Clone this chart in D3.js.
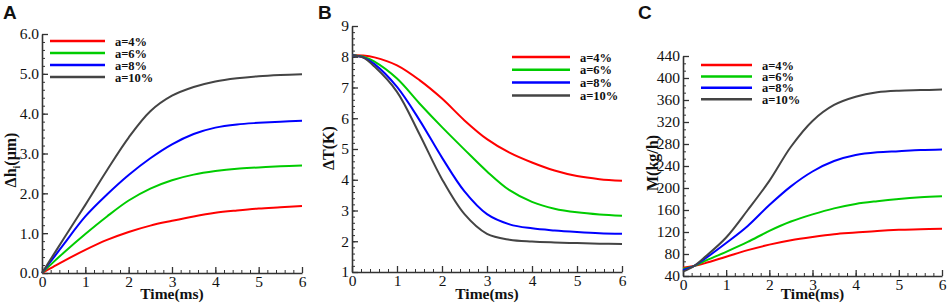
<!DOCTYPE html>
<html>
<head>
<meta charset="utf-8">
<script src="https://cdn.jsdelivr.net/npm/d3@7"></script>
<style>
  html, body { margin: 0; padding: 0; background: #fff; }
  svg { display: block; }
  .axis path, .axis line { stroke: #333; }
</style>
</head>
<body>
<div id="container"></div>
<script>
// time grid (ms)
const times = [0, 0.25, 0.5, 1, 1.5, 2, 2.5, 3, 3.5, 4, 4.5, 5, 5.5, 6]
const seriesNames = ['a=4%', 'a=6%', 'a=8%', 'a=10%']
const seriesColors = ['#ff0000', '#00cc00', '#0000ff', '#444444']

// panel A: Δh (μm)
const dhA4 = [0, 0.15, 0.30, 0.58, 0.83, 1.03, 1.19, 1.31, 1.42, 1.51, 1.57, 1.62, 1.65, 1.68]
const dhA6 = [0, 0.26, 0.51, 0.98, 1.42, 1.82, 2.12, 2.33, 2.47, 2.56, 2.62, 2.65, 2.68, 2.70]
const dhA8 = [0, 0.36, 0.72, 1.42, 1.97, 2.46, 2.88, 3.23, 3.49, 3.65, 3.73, 3.77, 3.80, 3.82]
const dhA10 = [0, 0.43, 0.86, 1.71, 2.58, 3.40, 4.06, 4.45, 4.67, 4.81, 4.89, 4.94, 4.97, 4.99]

// panel B: ΔT (K)
const dtA4 = [8.05, 8.04, 7.98, 7.72, 7.24, 6.64, 5.93, 5.32, 4.88, 4.56, 4.30, 4.12, 4.02, 3.97]
const dtA6 = [8.05, 8.00, 7.84, 7.29, 6.48, 5.71, 4.98, 4.27, 3.66, 3.28, 3.06, 2.94, 2.87, 2.83]
const dtA8 = [8.05, 7.98, 7.76, 7.02, 5.94, 4.72, 3.62, 2.88, 2.55, 2.42, 2.35, 2.30, 2.26, 2.24]
const dtA10 = [8.05, 7.97, 7.68, 6.86, 5.48, 4.02, 2.88, 2.24, 2.05, 1.99, 1.96, 1.94, 1.92, 1.91]

// panel C: M (kg/h)
const mA4 = [55, 58, 63, 75, 87, 97, 105, 111, 116, 119, 122, 124, 125, 126]
const mA6 = [53, 58, 67, 84, 102, 122, 139, 152, 163, 171, 176, 180, 183, 185]
const mA8 = [51, 58, 71, 100, 131, 169, 203, 230, 249, 260, 265, 267, 269, 270]
const mA10 = [48, 58, 74, 110, 160, 213, 275, 322, 351, 366, 374, 377, 378, 379]

// axis ticks
const xTicks = [0, 1, 2, 3, 4, 5, 6]
const dhTicks = [0, 1, 2, 3, 4, 5, 6]
const dtTicks = [1, 2, 3, 4, 5, 6, 7, 8, 9]
const mTicks = [40, 80, 120, 160, 200, 240, 280, 320, 360, 400, 440]

const width = 948
const height = 305
const serif = 'Liberation Serif, Times New Roman, Times, serif'

const svg = d3.select('#container').append('svg')
    .attr('width', width).attr('height', height)

const panels = [
    {
        label: 'A', labelX: 3, left: 42, right: 302, top: 34, bottom: 273,
        domain: [0, 6], ticks: dhTicks, minorStep: 0.2, fmt: d3.format('.1f'),
        series: [dhA4, dhA6, dhA8, dhA10],
        legend: { x1: 50, x2: 105, y: 41, dy: 12 },
        ytitle: { x: 16, y: 160 }
    },
    {
        label: 'B', labelX: 318, left: 352, right: 622, top: 26, bottom: 272,
        domain: [1, 9], ticks: dtTicks, minorStep: 0.2, fmt: d3.format('d'),
        series: [dtA4, dtA6, dtA8, dtA10],
        legend: { x1: 512, x2: 570, y: 57, dy: 12.8 },
        ytitle: { x: 334, y: 148 }
    },
    {
        label: 'C', labelX: 638, left: 683, right: 942, top: 56, bottom: 276,
        domain: [40, 440], ticks: mTicks, minorStep: 40 / 3, fmt: d3.format('d'),
        series: [mA4, mA6, mA8, mA10],
        legend: { x1: 701, x2: 752, y: 65, dy: 11.4 },
        ytitle: { x: 658, y: 163 }
    }
]

const minorRange = (lo, hi, step) => {
    const out = []
    const n = Math.round((hi - lo) / step)
    for (let i = 0; i <= n; i++) out.push(lo + i * step)
    return out
}

const styleAxis = a => {
    a.attr('font-family', serif).attr('font-size', 15.5)
    a.select('.domain').attr('stroke-width', 1.6)
    a.selectAll('line').attr('stroke-width', 1.3)
    a.selectAll('text').attr('fill', '#111').attr('font-family', serif)
}

panels.forEach(p => {
    const g = svg.append('g')

    const xScale = d3.scaleLinear().domain([0, 6]).range([p.left, p.right])
    const yScale = d3.scaleLinear().domain(p.domain).range([p.bottom, p.top])

    // minor ticks
    g.append('g').attr('class', 'axis')
        .attr('transform', `translate(0, ${p.bottom})`)
        .call(d3.axisBottom(xScale).tickValues(minorRange(0, 6, 0.2)).tickSize(-3).tickFormat(''))
        .call(a => a.select('.domain').remove())
    g.append('g').attr('class', 'axis')
        .attr('transform', `translate(${p.left}, 0)`)
        .call(d3.axisLeft(yScale).tickValues(minorRange(p.domain[0], p.domain[1], p.minorStep)).tickSize(-3).tickFormat(''))
        .call(a => a.select('.domain').remove())

    // major ticks
    g.append('g').attr('class', 'axis')
        .attr('transform', `translate(0, ${p.bottom})`)
        .call(d3.axisBottom(xScale).tickValues(xTicks).tickSizeInner(-6).tickSizeOuter(0).tickPadding(3).tickFormat(d3.format('d')))
        .call(styleAxis)
    g.append('g').attr('class', 'axis')
        .attr('transform', `translate(${p.left}, 0)`)
        .call(d3.axisLeft(yScale).tickValues(p.ticks).tickSizeInner(-6).tickSizeOuter(0).tickPadding(3).tickFormat(p.fmt))
        .call(styleAxis)

    // curves
    const line = d3.line()
        .x((d, i) => xScale(times[i]))
        .y(d => yScale(d))
        .curve(d3.curveCatmullRom.alpha(0.5))
    p.series.forEach((s, si) => {
        g.append('path')
            .attr('d', line(s))
            .attr('fill', 'none')
            .attr('stroke', seriesColors[si])
            .attr('stroke-width', 2)
    })

    // legend
    seriesNames.forEach((name, si) => {
        const y = p.legend.y + si * p.legend.dy
        g.append('line')
            .attr('x1', p.legend.x1).attr('x2', p.legend.x2)
            .attr('y1', y).attr('y2', y)
            .attr('stroke', seriesColors[si]).attr('stroke-width', 2.5)
        g.append('text')
            .attr('x', p.legend.x2 + 10).attr('y', y + 4.5)
            .attr('font-family', serif).attr('font-weight', 'bold').attr('font-size', 12.5)
            .attr('fill', '#111')
            .text(name)
    })

    // x title
    g.append('text')
        .attr('x', (p.left + p.right) / 2).attr('y', 299)
        .attr('text-anchor', 'middle')
        .attr('font-family', serif).attr('font-weight', 'bold').attr('font-size', 15.5)
        .attr('fill', '#111')
        .text('Time(ms)')

    // y title
    const yt = g.append('text')
        .attr('transform', `translate(${p.ytitle.x}, ${p.ytitle.y}) rotate(-90)`)
        .attr('text-anchor', 'middle')
        .attr('font-family', serif).attr('font-weight', 'bold').attr('font-size', 16)
        .attr('fill', '#111')
    if (p.label === 'A') {
        yt.append('tspan').text('Δh')
        yt.append('tspan').attr('font-size', 10).attr('dy', 4).text('i')
        yt.append('tspan').attr('dy', -4).text('(μm)')
    } else if (p.label === 'B') {
        yt.text('ΔT(K)')
    } else {
        yt.text('M(kg/h)')
    }

    // panel letter
    g.append('text')
        .attr('x', p.labelX).attr('y', 19)
        .attr('font-family', 'Liberation Sans, Arial, sans-serif')
        .attr('font-weight', 'bold').attr('font-size', 19)
        .attr('fill', '#111')
        .text(p.label)
})
</script>
</body>
</html>
